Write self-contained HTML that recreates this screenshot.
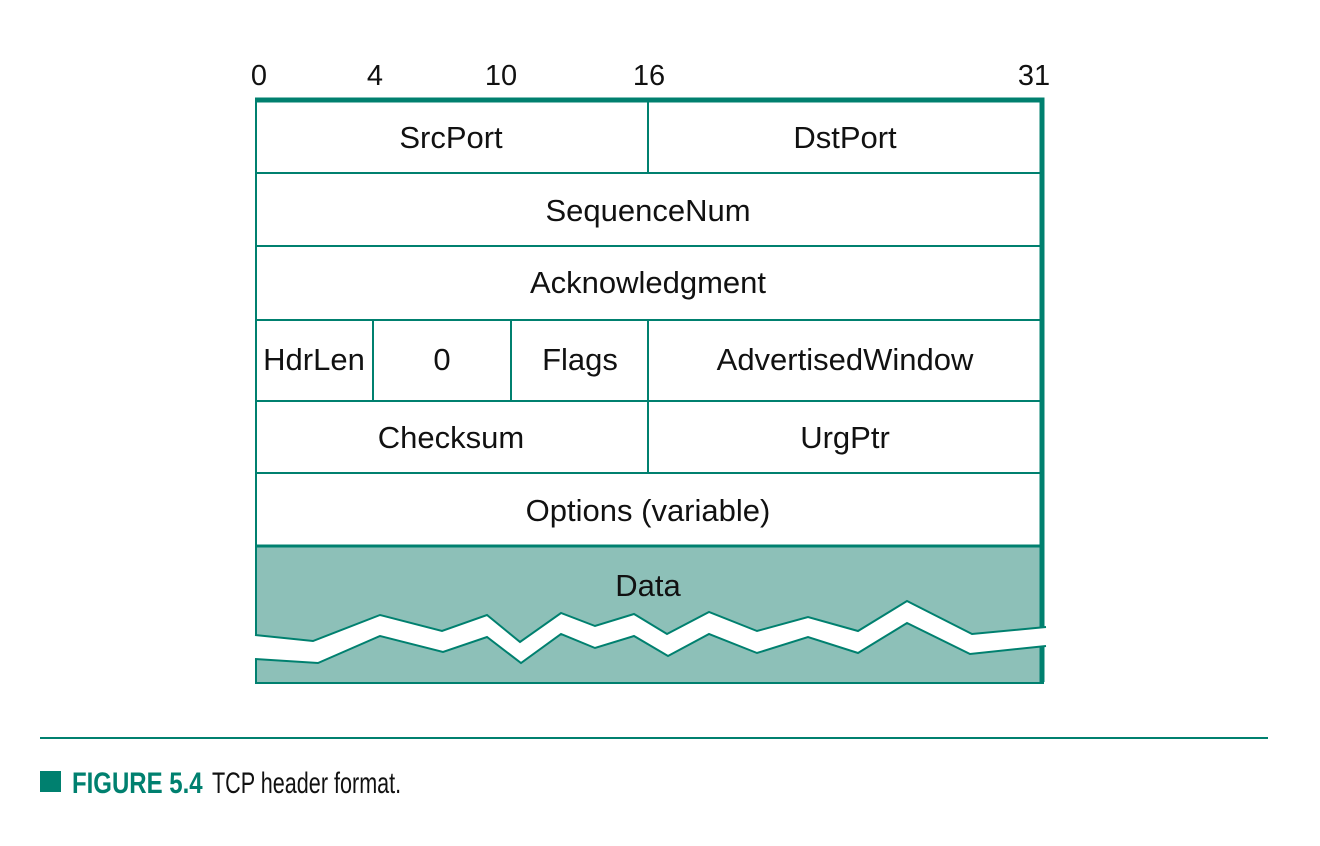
<!DOCTYPE html>
<html><head><meta charset="utf-8"><style>
html,body{margin:0;padding:0;background:#fff;width:1320px;height:846px;overflow:hidden}
svg{display:block}
</style></head><body>
<svg width="1320" height="846" viewBox="0 0 1320 846" xmlns="http://www.w3.org/2000/svg" font-family="'Liberation Sans', Arial, sans-serif">
<g font-size="29" fill="#111" text-anchor="middle">
<text x="259" y="85">0</text>
<text x="375" y="85">4</text>
<text x="501" y="85">10</text>
<text x="649" y="85">16</text>
<text x="1034" y="85">31</text>
</g>
<path d="M255,546 H1042 V627 L972,634 L907,601 L858,631 L808,617 L757,631 L709,612 L667,634 L634,614 L595,626 L561,613 L520,642 L487,615 L442,631 L380,615 L313,641 L255,635 Z" fill="#8dc0b8"/>
<path d="M255,659 L318,663 L380,636 L443,652 L487,637 L521,663 L561,634 L595,648 L634,636 L668,656 L709,634 L757,653 L808,637 L858,653 L907,623 L970,654 L1042,646 V683 H255 Z" fill="#8dc0b8"/>
<g stroke="#00806f" fill="none" stroke-width="2">
<polyline points="255,635 313,641 380,615 442,631 487,615 520,642 561,613 595,626 634,614 667,634 709,612 757,631 808,617 858,631 907,601 972,634 1046,627"/>
<polyline points="255,659 318,663 380,636 443,652 487,637 521,663 561,634 595,648 634,636 668,656 709,634 757,653 808,637 858,653 907,623 970,654 1046,646"/>
<line x1="256" y1="100" x2="256" y2="635"/>
<line x1="256" y1="659" x2="256" y2="683"/>
<line x1="255" y1="683" x2="1044" y2="683"/>
<line x1="256" y1="173" x2="1042" y2="173"/>
<line x1="256" y1="246" x2="1042" y2="246"/>
<line x1="256" y1="320" x2="1042" y2="320"/>
<line x1="256" y1="401" x2="1042" y2="401"/>
<line x1="256" y1="473" x2="1042" y2="473"/>
<line x1="256" y1="546" x2="1042" y2="546" stroke-width="3"/>
<line x1="648" y1="100" x2="648" y2="173"/>
<line x1="648" y1="320" x2="648" y2="473"/>
<line x1="373" y1="320" x2="373" y2="401"/>
<line x1="511" y1="320" x2="511" y2="401"/>
</g>
<g stroke="#00806f" fill="none" stroke-width="5">
<path d="M255,100 H1042 V628"/>
<line x1="1042" y1="646" x2="1042" y2="682"/>
</g>
<g font-size="31" fill="#111" text-anchor="middle">
<text x="451" y="148">SrcPort</text>
<text x="845" y="148">DstPort</text>
<text x="648" y="221">SequenceNum</text>
<text x="648" y="293">Acknowledgment</text>
<text x="314" y="370">HdrLen</text>
<text x="442" y="370">0</text>
<text x="580" y="370">Flags</text>
<text x="845" y="370">AdvertisedWindow</text>
<text x="451" y="448">Checksum</text>
<text x="845" y="448">UrgPtr</text>
<text x="648" y="521">Options (variable)</text>
<text x="648" y="596">Data</text>
</g>
<line x1="40" y1="738" x2="1268" y2="738" stroke="#00806f" stroke-width="2"/>
<rect x="40" y="771" width="21" height="21" fill="#00806f"/>
<text x="72" y="793" font-size="30" font-weight="bold" fill="#00806f" transform="translate(72,0) scale(0.8,1) translate(-72,0)">FIGURE 5.4</text>
<text x="212" y="793" font-size="30" fill="#111" transform="translate(212,0) scale(0.72,1) translate(-212,0)">TCP header format.</text>
</svg>
</body></html>
